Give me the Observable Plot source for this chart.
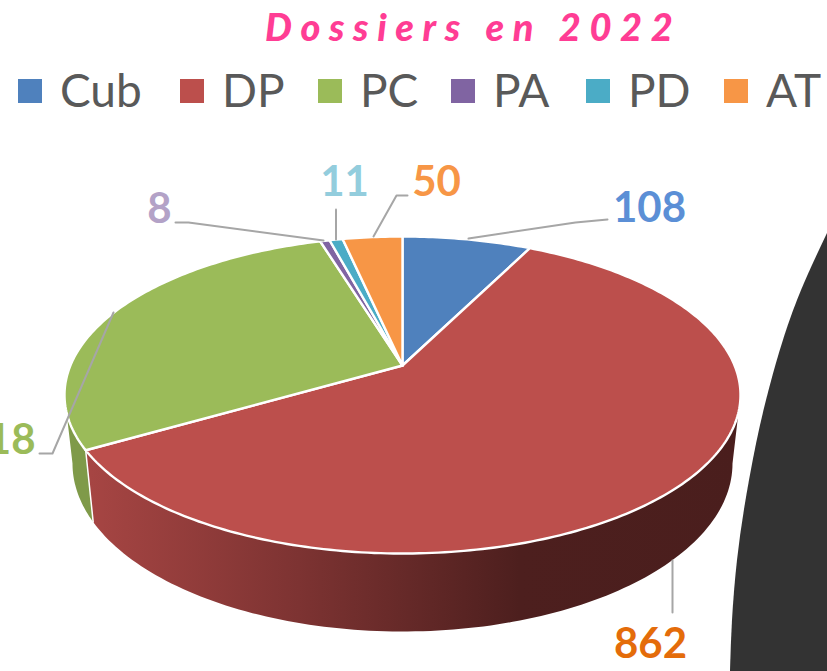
<!DOCTYPE html>
<html>
<head>
<meta charset="utf-8">
<script src="https://cdn.jsdelivr.net/npm/d3@7"></script>
<script src="https://cdn.jsdelivr.net/npm/@observablehq/plot@0.6"></script>
<style>
html,body{margin:0;padding:0;background:#fff;overflow:hidden}
#head{position:relative;width:827px;height:140px;font-family:Lato,sans-serif}
#title{position:absolute;left:265px;top:4px;font:italic 900 38px Lato,sans-serif;letter-spacing:8.6px;color:#ff3d94;white-space:nowrap;line-height:44px}
.sw{position:absolute;top:79px;width:24px;height:24px}
.lb{position:absolute;top:62px;font:400 46px/56px Lato,sans-serif;color:#595959;white-space:nowrap}
#chart svg{display:block}
</style>
</head>
<body>
<div id="head"><div id="title">Dossiers en 2022</div></div>
<div id="chart"></div>
<script>
const categories = ["Cub", "DP", "PC", "PA", "PD", "AT"];
const values = [108, 862, 418, 8, 11, 50];
const colors = ["#4f81bd", "#bc4f4c", "#9bbb59", "#8064a2", "#4bacc6", "#f79646"];
const labelColors = ["#5b8fd6", "#e46c0a", "#9bbb59", "#b3a2c7", "#93cddd", "#f79646"];
const legendSwatchX = [18, 180, 318, 451, 586, 724];
const legendTextX = [60, 222, 360, 493, 628, 766];
const labelX = [649, 650, 35, 159, 344, 436];
const labelY = [208, 644, 440, 209, 182, 182];
const labelAnchor = ["middle", "middle", "end", "middle", "middle", "middle"];
const leaders = [
  [[607, 219], [575, 222], [468, 238]],
  [[672, 560], [672, 612]],
  [[39, 453], [52, 453], [113, 312]],
  [[175, 222], [188, 222], [323, 240]],
  [[335.5, 209], [335.5, 239]],
  [[407, 195], [396, 195], [373, 236]]
];
const darkEdgeX = [827, 797, 766, 749, 737, 732, 730];
const darkEdgeY = [233, 300, 400, 480, 560, 620, 671];

const HEAD = 140, W = 827, H = 671;

// legend built from the arrays
const head = document.getElementById("head");
categories.forEach((c, i) => {
  const s = document.createElement("div");
  s.className = "sw"; s.style.left = legendSwatchX[i] + "px"; s.style.background = colors[i];
  head.appendChild(s);
  const t = document.createElement("div");
  t.className = "lb"; t.style.left = legendTextX[i] + "px"; t.textContent = c;
  head.appendChild(t);
});

// perspective pie geometry: disc-preserving projective map puts the centre above the ellipse centre
const total = d3.sum(values);
const cum = d3.cumsum(values);
const top_ = {cx: 402, cy: 394.5, rx: 338, ry: 158.5};
const base = {cx: 402, cy: 463, rx: 330, ry: 168};
const p = 30 / 158;
const k = Math.sqrt(1 - p * p);
const paramOf = f => {               // fraction of the pie -> ellipse parameter
  const a = f * 2 * Math.PI;
  const d = 1 + p * Math.cos(a);
  const t = Math.atan2(Math.sin(a) * k / d, (Math.cos(a) + p) / d);
  return t < 0 ? t + 2 * Math.PI : t;
};
const onEllipse = (e, t) => [e.cx + e.rx * Math.sin(t), e.cy - e.ry * Math.cos(t)];
const apex = [402, 365];

const sliceRows = [];
categories.forEach((c, i) => {
  const f0 = (i ? cum[i - 1] : 0) / total, f1 = cum[i] / total;
  const n = Math.max(4, Math.ceil((f1 - f0) * 400));
  const pts = [apex];
  for (let j = 0; j <= n; j++) {
    const tt = paramOf(f0 + (f1 - f0) * j / n);
    pts.push(onEllipse(top_, i === 5 && j === n ? 2 * Math.PI : tt));
  }
  pts.push(apex);
  pts.forEach(q => sliceRows.push({cat: c, x: q[0], y: q[1]}));
});

// side walls (visible half only)
const wallPoly = (t0, t1, name) => {
  const n = 120, a = [], b = [];
  for (let j = 0; j <= n; j++) {
    const t = t0 + (t1 - t0) * j / n;
    a.push(onEllipse(top_, t)); b.push(onEllipse(base, t));
  }
  return [...a, ...b.reverse(), a[0]].map(q => ({wall: name, x: q[0], y: q[1]}));
};
const tRedEnd = paramOf(cum[1] / total);
const redWall = wallPoly(Math.PI / 2, tRedEnd, "DP");
const greenWall = wallPoly(tRedEnd, 1.5 * Math.PI, "PC");
const divider = [onEllipse(top_, tRedEnd), onEllipse(base, tRedEnd)].map(q => ({x: q[0], y: q[1]}));

const labels = categories.map((c, i) => ({text: String(values[i]), x: labelX[i], y: labelY[i], color: labelColors[i], anchor: labelAnchor[i]}));
const leaderRows = leaders.flatMap((l, i) => l.map(q => ({id: i, x: q[0], y: q[1]})));
const darkRows = darkEdgeX.map((x, i) => ({x, y: darkEdgeY[i]}));

const defs = () => {
  const d = d3.create("svg:defs");
  const g = d.append("linearGradient").attr("id", "redWall").attr("gradientUnits", "userSpaceOnUse")
    .attr("x1", 90).attr("x2", 740).attr("y1", 0).attr("y2", 0);
  [[0, "#a64543"], [0.32, "#7d3332"], [0.66, "#4d1f1e"], [1, "#4a1e1d"]].forEach(([o, c]) =>
    g.append("stop").attr("offset", o).attr("stop-color", c));
  return d.node();
};

const labelStyle = {x: "x", y: "y", text: "text", fill: d => d.color, fontFamily: "Lato, sans-serif", fontWeight: 700, fontSize: 42};

const chart = Plot.plot({
  width: W, height: H - HEAD,
  margin: 0,
  x: {domain: [0, W], range: [0, W], axis: null},
  y: {domain: [HEAD, H], range: [0, H - HEAD], axis: null},
  color: {domain: categories, range: colors},
  style: {background: "#fff", overflow: "hidden"},
  marks: [
    defs,
    Plot.areaX(darkRows, {x1: "x", x2: () => W, y: "y", fill: "#333333", curve: "monotone-y"}),
    Plot.line(greenWall, {x: "x", y: "y", fill: "#7f9a49", stroke: "none", curve: "linear"}),
    Plot.line(redWall, {x: "x", y: "y", fill: "url(#redWall)", stroke: "none", curve: "linear"}),
    Plot.line(divider, {x: "x", y: "y", stroke: "#fff", strokeWidth: 1.5}),
    Plot.line(sliceRows, {x: "x", y: "y", z: "cat", fill: "cat", stroke: "#fff", strokeWidth: 2.4, strokeLinejoin: "round", curve: "linear"}),
    Plot.line(leaderRows, {x: "x", y: "y", z: "id", stroke: "#a6a6a6", strokeWidth: 2, curve: "linear"}),
    Plot.text(labels.filter(d => d.anchor === "middle"), {...labelStyle, textAnchor: "middle"}),
    Plot.text(labels.filter(d => d.anchor === "end"), {...labelStyle, textAnchor: "end"})
  ]
});
document.getElementById("chart").appendChild(chart);
</script>
</body>
</html>
